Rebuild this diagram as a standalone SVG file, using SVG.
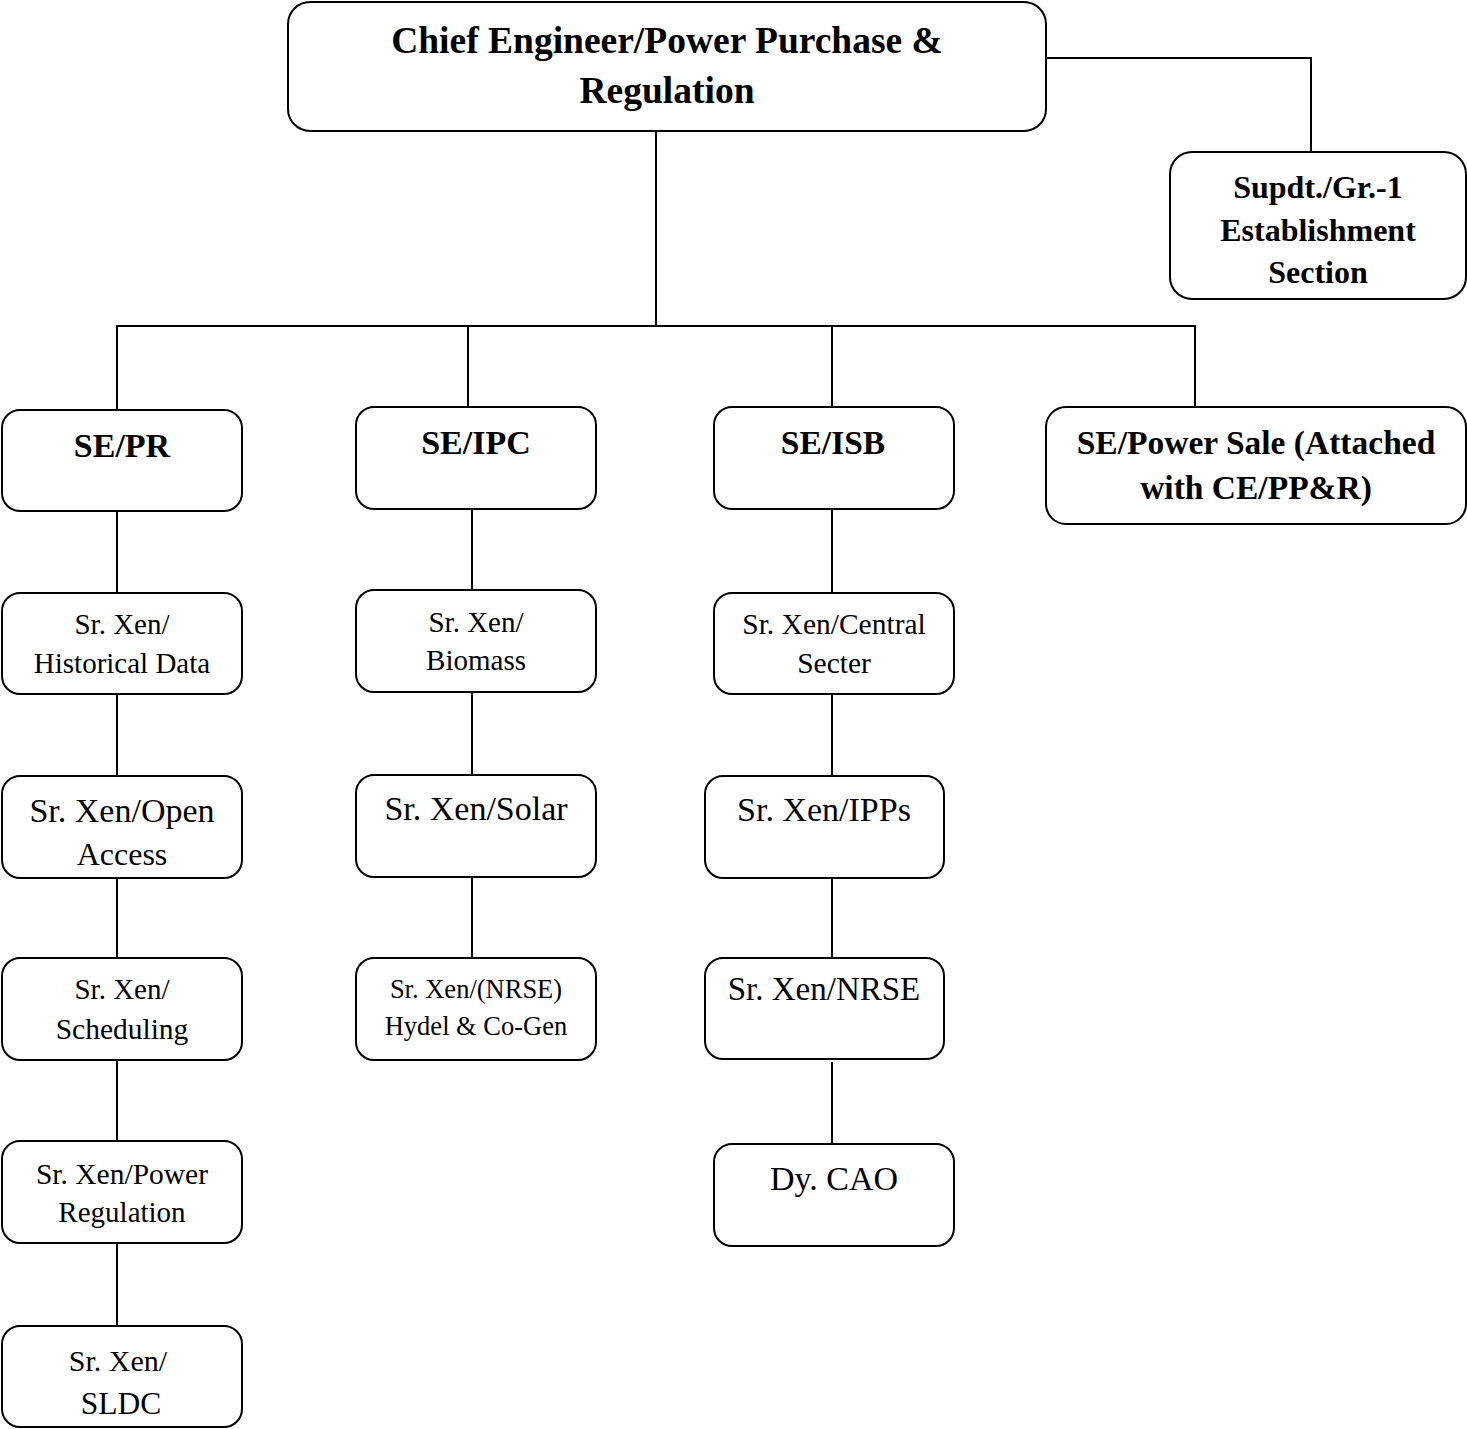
<svg xmlns="http://www.w3.org/2000/svg" width="1467" height="1429" viewBox="0 0 1467 1429">
<style>
.box{fill:#fff;stroke:#000;stroke-width:2}
.ln{fill:none;stroke:#000;stroke-width:2}
text{font-family:"Liberation Serif","Times New Roman",serif;fill:#000;text-anchor:middle}
.b{font-weight:bold}
</style>
<rect width="1467" height="1429" fill="#fff"/>
<g id="connectors">
<polyline class="ln" points="1046,58 1311,58 1311,152"/>
<line class="ln" x1="656" y1="131" x2="656" y2="326"/>
<line class="ln" x1="116" y1="326" x2="1196" y2="326"/>
<line class="ln" x1="117" y1="326" x2="117" y2="410"/>
<line class="ln" x1="468" y1="326" x2="468" y2="407"/>
<line class="ln" x1="832" y1="326" x2="832" y2="407"/>
<line class="ln" x1="1195" y1="326" x2="1195" y2="407"/>
<line class="ln" x1="117" y1="511" x2="117" y2="593"/>
<line class="ln" x1="117" y1="694" x2="117" y2="776"/>
<line class="ln" x1="117" y1="878" x2="117" y2="958"/>
<line class="ln" x1="117" y1="1060" x2="117" y2="1141"/>
<line class="ln" x1="117" y1="1243" x2="117" y2="1326"/>
<line class="ln" x1="472" y1="509" x2="472" y2="590"/>
<line class="ln" x1="472" y1="692" x2="472" y2="775"/>
<line class="ln" x1="472" y1="877" x2="472" y2="958"/>
<line class="ln" x1="832" y1="509" x2="832" y2="593"/>
<line class="ln" x1="832" y1="694" x2="832" y2="776"/>
<line class="ln" x1="832" y1="878" x2="832" y2="958"/>
<line class="ln" x1="832" y1="1062" x2="832" y2="1144"/>
</g>
<g id="ce">
<rect class="box" x="288" y="2" width="758" height="129" rx="22"/>
<text class="b" x="667" y="53" font-size="37.5">Chief Engineer/Power Purchase &amp;</text>
<text class="b" x="667" y="103" font-size="37.5">Regulation</text>
</g>
<g id="supdt">
<rect class="box" x="1170" y="152" width="296" height="147" rx="22"/>
<text class="b" x="1318" y="198" font-size="32">Supdt./Gr.-1</text>
<text class="b" x="1318" y="241" font-size="32">Establishment</text>
<text class="b" x="1318" y="283" font-size="32">Section</text>
</g>
<g id="se-pr">
<rect class="box" x="2" y="410" width="240" height="101" rx="18"/>
<text class="b" x="122" y="457" font-size="34">SE/PR</text>
</g>
<g id="se-ipc">
<rect class="box" x="356" y="407" width="240" height="102" rx="18"/>
<text class="b" x="476" y="454" font-size="34">SE/IPC</text>
</g>
<g id="se-isb">
<rect class="box" x="714" y="407" width="240" height="102" rx="18"/>
<text class="b" x="833" y="454" font-size="33.5">SE/ISB</text>
</g>
<g id="se-ps">
<rect class="box" x="1046" y="407" width="420" height="117" rx="20"/>
<text class="b" x="1256" y="454" font-size="33.5">SE/Power Sale (Attached</text>
<text class="b" x="1256" y="499" font-size="33.5">with CE/PP&amp;R)</text>
</g>
<g id="hist">
<rect class="box" x="2" y="593" width="240" height="101" rx="18"/>
<text x="122" y="634" font-size="29">Sr. Xen/</text>
<text x="122" y="673" font-size="29">Historical Data</text>
</g>
<g id="open">
<rect class="box" x="2" y="776" width="240" height="102" rx="18"/>
<text x="122" y="822" font-size="34">Sr. Xen/Open</text>
<text x="122" y="865" font-size="32">Access</text>
</g>
<g id="sched">
<rect class="box" x="2" y="958" width="240" height="102" rx="18"/>
<text x="122" y="999" font-size="29">Sr. Xen/</text>
<text x="122" y="1039" font-size="29.5">Scheduling</text>
</g>
<g id="preg">
<rect class="box" x="2" y="1141" width="240" height="102" rx="18"/>
<text x="122" y="1184" font-size="29.5">Sr. Xen/Power</text>
<text x="122" y="1222" font-size="29">Regulation</text>
</g>
<g id="sldc">
<rect class="box" x="2" y="1326" width="240" height="101" rx="18"/>
<text x="118" y="1371" font-size="30">Sr. Xen/</text>
<text x="121" y="1414" font-size="31.5">SLDC</text>
</g>
<g id="biomass">
<rect class="box" x="356" y="590" width="240" height="102" rx="18"/>
<text x="476" y="632" font-size="29">Sr. Xen/</text>
<text x="476" y="670" font-size="29">Biomass</text>
</g>
<g id="solar">
<rect class="box" x="356" y="775" width="240" height="102" rx="18"/>
<text x="476" y="820" font-size="34">Sr. Xen/Solar</text>
</g>
<g id="hydel">
<rect class="box" x="356" y="958" width="240" height="102" rx="18"/>
<text x="476" y="998" font-size="26.5">Sr. Xen/(NRSE)</text>
<text x="476" y="1035" font-size="26.5">Hydel &amp; Co-Gen</text>
</g>
<g id="central">
<rect class="box" x="714" y="593" width="240" height="101" rx="18"/>
<text x="834" y="634" font-size="29.5">Sr. Xen/Central</text>
<text x="834" y="673" font-size="29.5">Secter</text>
</g>
<g id="ipps">
<rect class="box" x="705" y="776" width="239" height="102" rx="18"/>
<text x="824" y="821" font-size="34">Sr. Xen/IPPs</text>
</g>
<g id="nrse">
<rect class="box" x="705" y="958" width="239" height="101" rx="18"/>
<text x="824" y="1000" font-size="33">Sr. Xen/NRSE</text>
</g>
<g id="cao">
<rect class="box" x="714" y="1144" width="240" height="102" rx="18"/>
<text x="834" y="1190" font-size="34">Dy. CAO</text>
</g>
</svg>
